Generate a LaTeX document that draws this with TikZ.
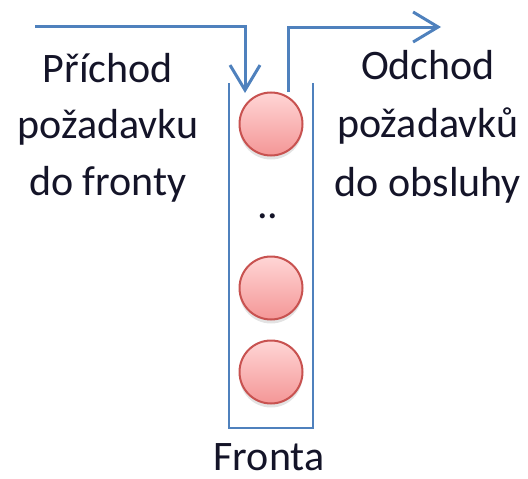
\documentclass[tikz,border=0pt]{standalone}
\usepackage{fontspec}
\setmainfont{Carlito}
\usetikzlibrary{arrows.meta,shadows}

\definecolor{flowblue}{RGB}{79,129,189}
\definecolor{itemtop}{RGB}{255,214,214}
\definecolor{itembottom}{RGB}{244,150,150}
\definecolor{itemedge}{RGB}{200,82,80}
\definecolor{labelink}{RGB}{20,20,40}

\tikzset{
  flow/.style={draw=flowblue, line width=3pt,
    -{Straight Barb[length=25pt, width=30pt, line width=3pt]}},
  wall/.style={draw=flowblue, line width=2.4pt},
  item/.style={circle, minimum size=63pt, inner sep=0pt,
    draw=itemedge, line width=2pt,
    top color=itemtop, bottom color=itembottom,
    drop shadow={shadow xshift=0pt, shadow yshift=-4pt, opacity=0.18, fill=black!60}},
  lbl/.style={font=\fontsize{42}{50}\selectfont, text=labelink,
    inner sep=0pt, anchor=base},
}

\begin{document}
\begin{tikzpicture}[x=1pt, y=-1pt]
  \useasboundingbox (0,0) rectangle (528,479);

  % the queue: an open-topped container
  \draw[wall] (229,83) -- (229,428) -- (313,428) -- (313,83);

  % requests waiting in the queue
  \node[item] (r1) at (271,124) {};
  \node[item] (r2) at (271,288) {};
  \node[item] (r3) at (271,372) {};
  \node[lbl] (gap) at (268,218) {..};

  % arrival and departure paths
  \coordinate (inStart) at (35,26);
  \coordinate (inEnd) at (245,93);
  \coordinate (outStart) at (288,92);
  \coordinate (outEnd) at (441,27);
  \draw[flow] (inStart) -| (inEnd);
  \draw[flow] (outStart) |- (outEnd);

  % labels
  \node[lbl] (inA) at (108,82) {Příchod};
  \node[lbl] (inB) at (108,138) {požadavku};
  \node[lbl] (inC) at (108,195) {do fronty};

  \node[lbl] (outA) at (428,79) {Odchod};
  \node[lbl] (outB) at (428,137) {požadavků};
  \node[lbl] (outC) at (428,196) {do obsluhy};

  \node[lbl] (queue) at (269,470) {Fronta};
\end{tikzpicture}
\end{document}
